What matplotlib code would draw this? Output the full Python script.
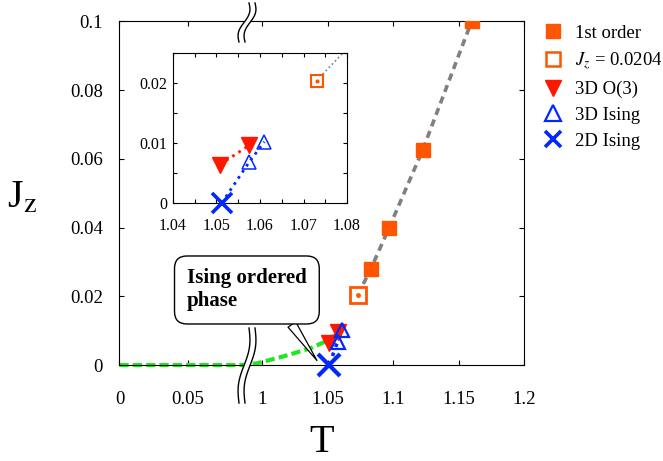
import numpy as np
import matplotlib
matplotlib.use("Agg")
import matplotlib.pyplot as plt
from matplotlib.ticker import MultipleLocator
from matplotlib.patches import Polygon
from matplotlib.lines import Line2D

plt.rcParams['font.family'] = 'Liberation Serif'
plt.rcParams['mathtext.fontset'] = 'stix'

# ---- data ----
first_T = [1.073, 1.083, 1.097, 1.1225, 1.160]     # 1st order line (open square first)
first_J = [0.0204, 0.028, 0.040, 0.0625, 0.100]
open_T = [1.073]
open_J = [0.0204]
o3_T = [1.0508, 1.0575]                            # 3D O(3)
o3_J = [0.0064, 0.0096]
is3_T = [1.0575, 1.0610]                           # 3D Ising
is3_J = [0.0068, 0.0102]
is2_T = [1.0512]                                   # 2D Ising
is2_J = [0.0]
green_T = [0, 0.03, 0.06, 0.09, 0.996, 1.006, 1.015, 1.024, 1.037, 1.048, 1.055]
green_J = [0, 0, 0, 0, 0.0005, 0.0015, 0.0024, 0.0034, 0.0049, 0.0068, 0.0085]

xticks = [0, 0.05, 1, 1.05, 1.1, 1.15, 1.2]
xticklabels = ['0', '0.05', '1', '1.05', '1.1', '1.15', '1.2']
yticks = [0, 0.02, 0.04, 0.06, 0.08, 0.1]
yticklabels = ['0', '0.02', '0.04', '0.06', '0.08', '0.1']
in_xticks = [1.04, 1.05, 1.06, 1.07, 1.08]
in_yticks = [0, 0.01, 0.02]
legend_labels = ['1st order', r'$J_z$ = 0.0204', '3D O(3)', '3D Ising', '2D Ising']

ORANGE = '#FF5500'
RED = '#FF1800'
BLUE = '#0028FF'
GREEN = '#22E622'
GRAY = '#808080'

# broken x axis: 0..0.093 then 0.988..1.2
K_LEFT = 1.045
OFF = 0.8908
U_BREAK = 0.0975


def fwd(t):
    t = np.asarray(t, float)
    return np.where(t < 0.5, t * K_LEFT, t - OFF)


def inv(u):
    u = np.asarray(u, float)
    return np.where(u < U_BREAK, u / K_LEFT, u + OFF)


fig = plt.figure(figsize=(6.63, 4.61), dpi=100)
ax = fig.add_axes([0.1802, 0.2082, 0.6100, 0.7452])
ax.set_xscale('function', functions=(fwd, inv))
ax.set_xlim(0, 1.2)
ax.set_ylim(0, 0.1)

ax.plot(green_T, green_J, color=GREEN, lw=3, ls='--', dashes=(2.2, 1.0), zorder=2, clip_on=False)
ax.plot(first_T, first_J, color=GRAY, lw=2.6, ls='--', dashes=(2.0, 1.4), zorder=2)
ax.plot(o3_T, o3_J, color=RED, lw=2.2, ls=':', zorder=2)
ax.plot(is2_T + is3_T, is2_J + is3_J, color=BLUE, lw=2.6, ls=':', zorder=2)

ax.plot(first_T[1:], first_J[1:], 's', color=ORANGE, ms=10.5, ls='none', zorder=5)
ax.plot(open_T, open_J, 's', mfc='white', mec=ORANGE, mew=2, ms=11, ls='none', zorder=5)
ax.plot(open_T, open_J, 'o', color=ORANGE, ms=2.5, zorder=6)
ax.plot(o3_T, o3_J, 'v', color=RED, ms=11, ls='none', zorder=5)
ax.plot(is3_T, is3_J, '^', mfc='none', mec=BLUE, mew=1.6, ms=10, ls='none', zorder=6)
ax.plot(is2_T, is2_J, 'x', color=BLUE, mew=3, ms=16, ls='none', zorder=6, clip_on=False)

ax.set_xticks(xticks, xticklabels)
ax.set_yticks(yticks, yticklabels)
ax.tick_params(direction='in', top=True, right=True, length=3.6, width=0.8, labelsize=13.5)
ax.tick_params(axis='x', pad=18.5)
ax.tick_params(axis='y', pad=12)
for s in ax.spines.values():
    s.set_linewidth(0.8)

ax.set_xlabel('T', fontsize=29, va='baseline')
ax.xaxis.set_label_coords(0.5, -0.254)
ax.set_ylabel(r'J$_{\mathrm{z}}$', fontsize=29, rotation=0, va='baseline', ha='left')
ax.yaxis.set_label_coords(-0.278, 0.457)

# break marks
W, H = 404.4, 343.5
xb = U_BREAK / float(fwd(1.2))


def draw_break(y0, y1):
    s = np.linspace(0, 1, 60)
    ypx = y0 + (y1 - y0) * s
    xoff = 5 * (s - 0.5) * 2 - 3 * np.sin(2 * np.pi * s)
    xl = xb + (xoff - 3) / W
    xr = xb + (xoff + 3) / W
    yy = ypx / H
    poly = np.column_stack([np.concatenate([xl, xr[::-1]]), np.concatenate([yy, yy[::-1]])])
    ax.add_patch(Polygon(poly, closed=True, fc='white', ec='none',
                         transform=ax.transAxes, clip_on=False, zorder=7))
    ax.plot(xl, yy, color='black', lw=1, transform=ax.transAxes, clip_on=False, zorder=7)
    ax.plot(xr, yy, color='black', lw=1, transform=ax.transAxes, clip_on=False, zorder=7)


draw_break(323, 362)
draw_break(-38, 37)

ax.annotate('Ising ordered\nphase', xy=(1.0418, 0.0013), xytext=(0.167, 0.281),
            textcoords='axes fraction', ha='left', va='top', fontsize=15, fontweight='bold',
            bbox=dict(boxstyle='round,pad=0.6', fc='white', ec='black', lw=1),
            arrowprops=dict(arrowstyle='wedge,tail_width=0.45,shrink_factor=0.5',
                            fc='white', ec='black', lw=0.9, relpos=(0.8, 0.0),
                            shrinkA=0, shrinkB=0),
            zorder=8)

# inset
axi = fig.add_axes([0.2609, 0.5597, 0.2625, 0.3253])
axi.set_xlim(1.04, 1.08)
axi.set_ylim(0, 0.025)
axi.plot(first_T, first_J, color=GRAY, lw=1.2, ls=':')
axi.plot(o3_T, o3_J, color=RED, lw=2, ls=':')
axi.plot(is2_T + is3_T, is2_J + is3_J, color=BLUE, lw=2, ls=':')
axi.plot(open_T, open_J, 's', mfc='white', mec=ORANGE, mew=1.5, ms=9)
axi.plot(open_T, open_J, 'o', color=ORANGE, ms=2)
axi.plot(o3_T, o3_J, 'v', color=RED, ms=11, ls='none')
axi.plot(is3_T, is3_J, '^', mfc='none', mec=BLUE, mew=1.1, ms=10, ls='none', zorder=4)
axi.plot(is2_T, is2_J, 'x', color=BLUE, mew=2.6, ms=15, ls='none', zorder=4, clip_on=False)
axi.set_xticks(in_xticks, [f'{v:g}' for v in in_xticks])
axi.set_yticks(in_yticks, [f'{v:g}' for v in in_yticks])
axi.xaxis.set_minor_locator(MultipleLocator(0.005))
axi.yaxis.set_minor_locator(MultipleLocator(0.005))
axi.tick_params(which='both', direction='in', top=True, right=True, length=3, width=0.8, labelsize=11.5)
axi.tick_params(axis='x', pad=10.5)
axi.tick_params(axis='y', pad=4)
for s in axi.spines.values():
    s.set_linewidth(0.8)

# legend with its own (smaller) markers
handles = [
    Line2D([], [], marker='s', color=ORANGE, ms=9.5, ls='none'),
    Line2D([], [], marker='s', mfc='white', mec=ORANGE, mew=1.8, ms=9.5, ls='none'),
    Line2D([], [], marker='v', color=RED, ms=11, ls='none'),
    Line2D([], [], marker='^', mfc='none', mec=BLUE, mew=1.6, ms=11, ls='none'),
    Line2D([], [], marker='x', color=BLUE, mew=2.6, ms=11.5, ls='none'),
]
fig.legend(handles, legend_labels,
           loc='upper left', bbox_to_anchor=(0.820, 0.946), frameon=False, fontsize=13.5,
           handlelength=1.0, handletextpad=0.65, labelspacing=0.46, borderpad=0, borderaxespad=0)

fig.savefig('out.png', dpi=100)
